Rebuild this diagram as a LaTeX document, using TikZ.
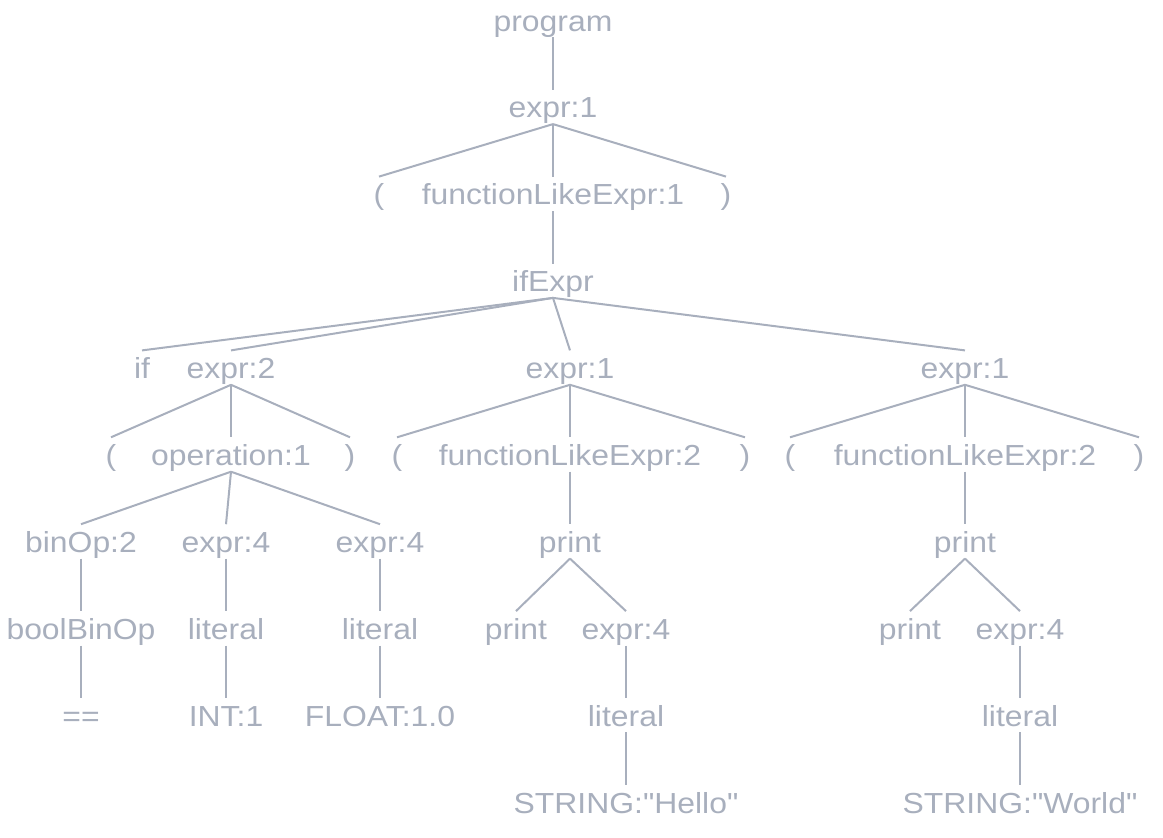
\documentclass[tikz,border=0pt]{standalone}
\usepackage{fontspec}
\setmainfont[FakeStretch=1.1, Ligatures=TeXOff]{Liberation Sans}
\definecolor{treegrey}{HTML}{A8AFBD}
\tikzset{
  tn/.style={anchor=base, inner sep=0pt, text height=28pt, text depth=6pt,
    text=treegrey, font=\fontsize{29}{34}\selectfont},
  tedge/.style={draw=treegrey, line width=2pt}
}
\begin{document}
\begin{tikzpicture}[x=1pt,y=-1pt]
\useasboundingbox (0,0) rectangle (1163,838);
% rows: baseline = 31 + 86.9 k
\node[tn] (program) at (553,31) {program};
\node[tn] (e1) at (553,117.9) {expr:1};
\node[tn] (lp1) at (379,204.8) {(};
\node[tn] (fle1) at (553,204.8) {functionLikeExpr:1};
\node[tn] (rp1) at (726,204.8) {)};
\node[tn] (ifx) at (553,291.7) {ifExpr};
\node[tn] (if) at (142,378.6) {if};
\node[tn] (e2) at (231,378.6) {expr:2};
\node[tn] (e1b) at (570,378.6) {expr:1};
\node[tn] (e1c) at (965,378.6) {expr:1};
\node[tn] (lp2) at (111,465.5) {(};
\node[tn] (op1) at (231,465.5) {operation:1};
\node[tn] (rp2) at (350,465.5) {)};
\node[tn] (lp3) at (397,465.5) {(};
\node[tn] (fle2a) at (570,465.5) {functionLikeExpr:2};
\node[tn] (rp3) at (745,465.5) {)};
\node[tn] (lp4) at (790,465.5) {(};
\node[tn] (fle2b) at (965,465.5) {functionLikeExpr:2};
\node[tn] (rp4) at (1139,465.5) {)};
\node[tn] (binop) at (81,552.4) {binOp:2};
\node[tn] (e4a) at (226,552.4) {expr:4};
\node[tn] (e4b) at (380,552.4) {expr:4};
\node[tn] (pr1) at (570,552.4) {print};
\node[tn] (pr2) at (965,552.4) {print};
\node[tn] (bbo) at (81,639.3) {boolBinOp};
\node[tn] (lit1) at (226,639.3) {literal};
\node[tn] (lit2) at (380,639.3) {literal};
\node[tn] (pr1a) at (516,639.3) {print};
\node[tn] (e4c) at (626,639.3) {expr:4};
\node[tn] (pr2a) at (910,639.3) {print};
\node[tn] (e4d) at (1020,639.3) {expr:4};
\node[tn] (eq) at (81,726.2) {==};
\node[tn] (int) at (226,726.2) {INT:1};
\node[tn] (float) at (380,726.2) {FLOAT:1.0};
\node[tn] (lit3) at (626,726.2) {literal};
\node[tn] (lit4) at (1020,726.2) {literal};
\node[tn] (hello) at (626,813.1) {STRING:"Hello"};
\node[tn] (world) at (1020,813.1) {STRING:"World"};
% edges
\foreach \p/\c in {program/e1, e1/lp1, e1/fle1, e1/rp1, fle1/ifx,
  ifx/if, ifx/e2, ifx/e1b, ifx/e1c,
  e2/lp2, e2/op1, e2/rp2,
  op1/binop, op1/e4a, op1/e4b,
  binop/bbo, bbo/eq, e4a/lit1, lit1/int, e4b/lit2, lit2/float,
  e1b/lp3, e1b/fle2a, e1b/rp3, fle2a/pr1, pr1/pr1a, pr1/e4c, e4c/lit3, lit3/hello,
  e1c/lp4, e1c/fle2b, e1c/rp4, fle2b/pr2, pr2/pr2a, pr2/e4d, e4d/lit4, lit4/world}
  \draw[tedge] (\p.south) -- (\c.north);
\end{tikzpicture}
\end{document}
